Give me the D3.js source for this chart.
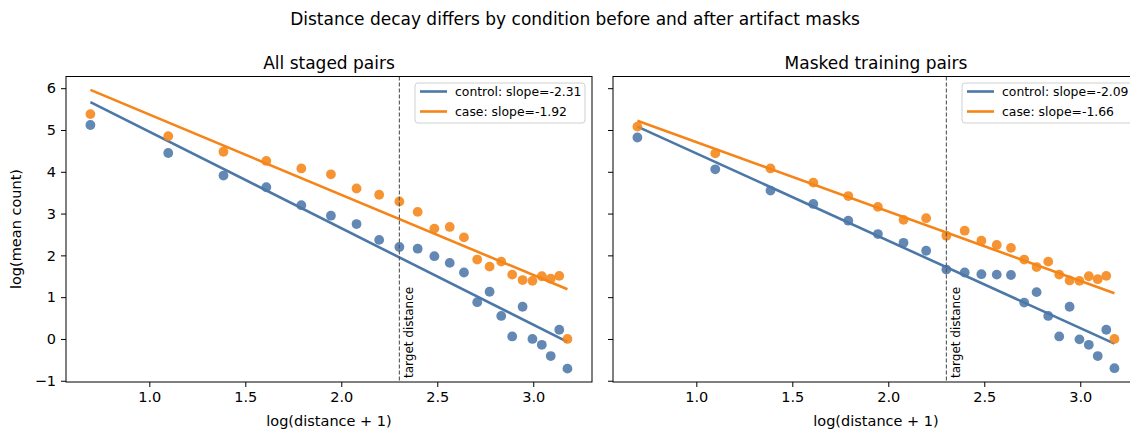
<!DOCTYPE html>
<html>
<head>
<meta charset="utf-8">
<script src="https://cdn.jsdelivr.net/npm/d3@7"></script>
<style>
    body { margin: 0; background: #fff; }
    svg { font-family: "DejaVu Sans", sans-serif; display: block; }
</style>
</head>
<body>
<div id="chart"></div>
<script>
// Data
const distances = [1, 2, 3, 4, 5, 6, 7, 8, 9, 10, 11, 12, 13, 14, 15, 16, 17, 18, 19, 20, 21, 22, 23];
const targetDistance = 9;

const allControl = [5.12, 4.45, 3.91, 3.63, 3.20, 2.95, 2.75, 2.37, 2.20, 2.16, 1.98, 1.82, 1.59,
    0.88, 1.13, 0.55, 0.06, 0.77, 0.00, -0.14, -0.41, 0.22, -0.71];
const allCase = [5.38, 4.85, 4.48, 4.26, 4.08, 3.94, 3.60, 3.45, 3.29, 3.04, 2.64, 2.68, 2.43,
    1.90, 1.73, 1.85, 1.54, 1.41, 1.39, 1.50, 1.44, 1.51, 0.00];
const maskedControl = [4.82, 4.06, 3.55, 3.23, 2.83, 2.51, 2.30, 2.11, 1.66, 1.59, 1.55, 1.54, 1.53,
    0.87, 1.12, 0.55, 0.06, 0.77, -0.01, -0.14, -0.41, 0.22, -0.70];
const maskedCase = [5.08, 4.44, 4.08, 3.74, 3.42, 3.16, 2.85, 2.89, 2.47, 2.59, 2.35, 2.25, 2.18,
    1.90, 1.72, 1.85, 1.54, 1.40, 1.39, 1.50, 1.43, 1.51, 0.00];

// fitted lines: [control, case] per panel
const allSlopes = [-2.31, -1.92];
const allIntercepts = [7.27, 7.29];
const maskedSlopes = [-2.09, -1.66];
const maskedIntercepts = [6.53, 6.37];

const panelTitles = ["All staged pairs", "Masked training pairs"];
const seriesNames = ["control", "case"];
const xTicks = [1.0, 1.5, 2.0, 2.5, 3.0];
const yTicks = [-1, 0, 1, 2, 3, 4, 5, 6];

const colors = ["#4c78a8", "#f58518"];

let width = 1130;
let height = 429;

let svg = d3
    .select("#chart")
    .append("svg")
    .attr("width", width)
    .attr("height", height);

svg.append("text")
    .attr("x", 575)
    .attr("y", 25)
    .attr("text-anchor", "middle")
    .style("font-size", "17px")
    .text("Distance decay differs by condition before and after artifact masks");

const panels = [
    { left: 66, title: panelTitles[0], series: [allControl, allCase], slopes: allSlopes, intercepts: allIntercepts, showY: true },
    { left: 613, title: panelTitles[1], series: [maskedControl, maskedCase], slopes: maskedSlopes, intercepts: maskedIntercepts, showY: false },
];

const plotW = 526;
const plotTop = 76.5;
const plotBottom = 382;
const logx = distances.map((d) => Math.log(d + 1));

// Draw one panel
const draw_panel = (p) => {
    let x = d3.scaleLinear().domain([0.566, 3.306]).range([p.left, p.left + plotW]);
    let y = d3.scaleLinear().domain([-1.03, 6.28]).range([plotBottom, plotTop]);

    let g = svg.append("g");

    // fitted lines
    const xr = d3.extent(logx);
    p.slopes.forEach((s, i) => {
        const pts = xr.map((v) => [v, p.intercepts[i] + s * v]);
        g.append("path")
            .datum(pts)
            .attr("fill", "none")
            .attr("stroke", colors[i])
            .attr("stroke-width", 2.6)
            .attr("d", d3.line().x((d) => x(d[0])).y((d) => y(d[1])));
    });

    // scatter points
    p.series.forEach((vals, i) => {
        g.append("g")
            .selectAll("circle")
            .data(vals)
            .enter()
            .append("circle")
            .attr("cx", (d, j) => x(logx[j]))
            .attr("cy", (d) => y(d))
            .attr("r", 4.9)
            .attr("fill", colors[i])
            .attr("opacity", 0.88);
    });

    // target distance marker
    const tx = x(Math.log(targetDistance + 1));
    g.append("line")
        .attr("x1", tx)
        .attr("x2", tx)
        .attr("y1", plotTop)
        .attr("y2", plotBottom)
        .attr("stroke", "#555")
        .attr("stroke-width", 1.1)
        .attr("stroke-dasharray", "4,2");
    g.append("text")
        .attr("transform", "translate(" + (tx + 14) + "," + (plotBottom - 4) + ") rotate(-90)")
        .style("font-size", "12px")
        .text("target distance");

    // axes
    g.append("g")
        .attr("transform", "translate(0," + plotBottom + ")")
        .call(d3.axisBottom(x).tickValues(xTicks).tickFormat(d3.format(".1f")).tickSizeOuter(0).tickSize(5).tickPadding(5))
        .call((a) => a.select(".domain").remove())
        .selectAll("text")
        .style("font-size", "14.5px")
        .attr("font-family", "DejaVu Sans");

    let ya = g.append("g")
        .attr("transform", "translate(" + p.left + ",0)")
        .call(d3.axisLeft(y).tickValues(yTicks).tickFormat((d) => (d < 0 ? "\u2212" + -d : d)).tickSizeOuter(0).tickSize(5).tickPadding(5))
        .call((a) => a.select(".domain").remove());
    ya.selectAll("text")
        .style("font-size", "14.5px")
        .attr("font-family", "DejaVu Sans");
    if (!p.showY) {
        ya.selectAll("text").remove();
    }

    // frame
    g.append("rect")
        .attr("x", p.left)
        .attr("y", plotTop)
        .attr("width", plotW)
        .attr("height", plotBottom - plotTop)
        .attr("fill", "none")
        .attr("stroke", "#000")
        .attr("stroke-width", 1);

    // titles
    g.append("text")
        .attr("x", p.left + plotW / 2)
        .attr("y", 69)
        .attr("text-anchor", "middle")
        .style("font-size", "17px")
        .text(p.title);
    g.append("text")
        .attr("x", p.left + plotW / 2)
        .attr("y", 426)
        .attr("text-anchor", "middle")
        .style("font-size", "14.5px")
        .text("log(distance + 1)");

    // legend
    const lx = p.left + plotW - 177;
    let leg = g.append("g").attr("transform", "translate(" + lx + ",83)");
    leg.append("rect")
        .attr("width", 170)
        .attr("height", 40)
        .attr("rx", 3)
        .attr("fill", "#fff")
        .attr("fill-opacity", 0.8)
        .attr("stroke", "#d0d0d0");
    seriesNames.forEach((n, i) => {
        const ly = 8.5 + i * 20;
        leg.append("line")
            .attr("x1", 5)
            .attr("x2", 32)
            .attr("y1", ly)
            .attr("y2", ly)
            .attr("stroke", colors[i])
            .attr("stroke-width", 2.6);
        leg.append("text")
            .attr("x", 40)
            .attr("y", ly + 4.5)
            .style("font-size", "12.4px")
            .text(n + ": slope=" + p.slopes[i].toFixed(2));
    });
};

panels.forEach(draw_panel);

svg.append("text")
    .attr("transform", "translate(21,229) rotate(-90)")
    .attr("text-anchor", "middle")
    .style("font-size", "14.5px")
    .text("log(mean count)");
</script>
</body>
</html>
